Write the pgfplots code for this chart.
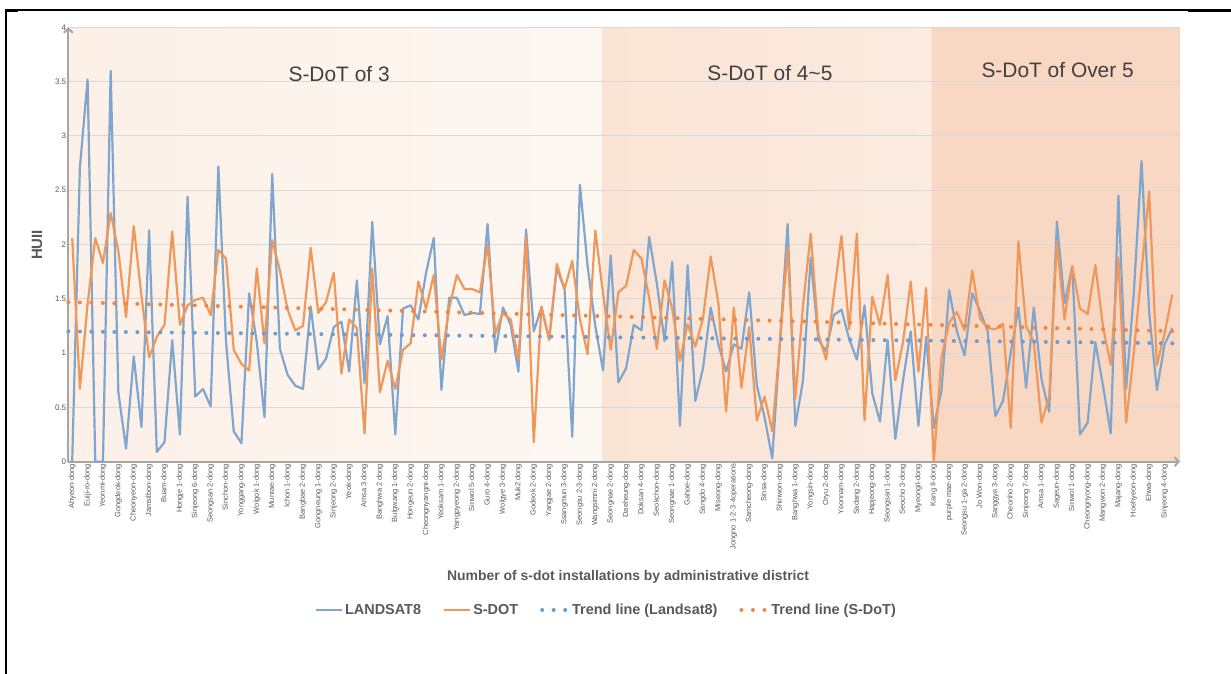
\documentclass[border=0pt]{standalone}
\usepackage{fontspec}
\setmainfont{Liberation Sans}
\usepackage{pgfplots}
\usepackage{pgfplotstable}
\pgfplotsset{compat=1.18}
\usetikzlibrary{arrows.meta}
\definecolor{cBlue}{RGB}{128,166,206}
\definecolor{cOrange}{RGB}{240,152,92}
\definecolor{tBlue}{RGB}{108,156,210}
\definecolor{tOrange}{RGB}{237,135,72}
\definecolor{rA}{RGB}{252,240,231}
\definecolor{rAr}{RGB}{253,247,242}
\definecolor{rB}{RGB}{250,228,213}
\definecolor{rBr}{RGB}{251,235,224}
\definecolor{rC}{RGB}{248,216,195}
\definecolor{txt}{RGB}{89,89,89}
\definecolor{rtxt}{RGB}{64,64,64}
\definecolor{axgray}{RGB}{166,166,166}

\pgfplotstableread{
i l s
0 0 2.06
1 2.71 0.67
2 3.52 1.45
3 0 2.06
4 0 1.83
5 3.60 2.29
6 0.64 1.94
7 0.12 1.33
8 0.97 2.17
9 0.32 1.53
10 2.13 0.96
11 0.09 1.15
12 0.18 1.26
13 1.12 2.12
14 0.25 1.26
15 2.44 1.44
16 0.60 1.49
17 0.67 1.51
18 0.51 1.35
19 2.72 1.95
20 1.10 1.87
21 0.28 1.03
22 0.17 0.90
23 1.55 0.84
24 1.10 1.78
25 0.41 1.09
26 2.65 2.04
27 1.04 1.76
28 0.80 1.40
29 0.70 1.21
30 0.67 1.25
31 1.43 1.97
32 0.85 1.37
33 0.95 1.47
34 1.24 1.74
35 1.29 0.81
36 0.83 1.31
37 1.67 1.23
38 0.72 0.26
39 2.21 1.78
40 1.08 0.64
41 1.34 0.93
42 0.25 0.67
43 1.41 1.03
44 1.44 1.09
45 1.31 1.66
46 1.74 1.41
47 2.06 1.72
48 0.66 0.94
49 1.51 1.41
50 1.51 1.72
51 1.35 1.59
52 1.37 1.59
53 1.36 1.56
54 2.19 2.00
55 1.01 1.18
56 1.42 1.37
57 1.26 1.31
58 0.83 0.94
59 2.14 2.07
60 1.20 0.18
61 1.42 1.43
62 1.13 1.12
63 1.78 1.82
64 1.59 1.59
65 0.23 1.85
66 2.55 1.31
67 1.80 0.99
68 1.25 2.13
69 0.84 1.55
70 1.90 1.03
71 0.73 1.56
72 0.86 1.62
73 1.26 1.95
74 1.21 1.87
75 2.07 1.51
76 1.64 1.04
77 1.11 1.67
78 1.84 1.41
79 0.33 0.93
80 1.81 1.27
81 0.56 1.06
82 0.86 1.32
83 1.42 1.89
84 1.08 1.46
85 0.83 0.46
86 1.08 1.42
87 1.04 0.68
88 1.56 1.24
89 0.70 0.38
90 0.41 0.60
91 0.03 0.28
92 1.10 1.10
93 2.19 1.97
94 0.33 0.58
95 0.75 1.44
96 1.88 2.10
97 1.12 1.18
98 1.02 0.94
99 1.35 1.53
100 1.40 2.08
101 1.13 1.22
102 0.94 2.10
103 1.44 0.38
104 0.63 1.52
105 0.37 1.26
106 1.12 1.72
107 0.21 0.75
108 0.75 1.10
109 1.20 1.66
110 0.33 0.83
111 1.15 1.60
112 0.31 0
113 0.66 0.96
114 1.58 1.28
115 1.20 1.38
116 0.98 1.21
117 1.55 1.76
118 1.39 1.32
119 1.20 1.23
120 0.42 1.22
121 0.56 1.27
122 1.00 0.31
123 1.42 2.03
124 0.68 1.25
125 1.42 1.10
126 0.76 0.36
127 0.46 0.60
128 2.21 2.02
129 1.46 1.31
130 1.80 1.80
131 0.25 1.41
132 0.36 1.36
133 1.10 1.81
134 0.70 1.24
135 0.26 0.89
136 2.45 1.88
137 0.67 0.36
138 1.55 1.00
139 2.77 1.75
140 1.37 2.49
141 0.66 0.89
142 1.08 1.18
143 1.23 1.54
}\hudata

\begin{document}
\begin{tikzpicture}[x=1bp,y=1bp]
% frame
\draw[black, line width=2.2bp] (6,0) -- (6,664.8);
\draw[black, line width=1.2bp] (6,664) -- (1231,664);
\draw[black, line width=2.6bp] (5,663.6) -- (18,663.6);
\draw[black, line width=2.6bp] (1188,663.6) -- (1231,663.6);
\begin{axis}[
  set layers,
  at={(68.35bp,212.3bp)}, anchor=south west,
  scale only axis, width=1111.6bp, height=434.3bp,
  xmin=-0.5, xmax=144, ymin=0, ymax=4,
  clip=false,
  axis lines*=left,
  x axis line style={draw=axgray, line width=2bp, -{Straight Barb[length=4bp,width=9bp]}},
  y axis line style={draw=axgray, line width=2bp, -{Straight Barb[length=4bp,width=9bp]}},
  major tick length=0pt,
  ymajorgrids, grid style={draw=gray!30, line width=1bp},
  ytick={0,0.5,...,4},
  yticklabel style={font=\fontsize{8}{9}\selectfont, text=txt, inner sep=2bp},
  /pgf/number format/assume math mode=true,
  xtick={0,2,...,142},
  xticklabels={Ahyeon-dong, Euiji-ro-dong, Yeonmi-dong, Gongdeok-dong, Cheonyeon-dong, Jamsilbon-dong, Buam-dong, Hongje 1-dong, Sinjeong 6-dong, Seongsan 2-dong, Sinchon-dong, Yonggang-dong, Wolgok 1-dong, Munrae-dong, Ichon 1-dong, Bangbae 2-dong, Gongneung 1-dong, Sinjeong 2-dong, Yeok-dong, Amsa 3 dong, Banghwa 2 dong, Bulgwang 1-dong, Hongeun 2-dong, Cheongnyangni-dong, Yeoksam 1-dong, Yangpyeong 2-dong, Sinwol 5-dong, Guro 4-dong, Wolgye 3-dong, Muk2 dong, Godeok 2-dong, Yangjae 2-dong, Ssangmun 3-dong, Seongsu 2-3-dong, Wangsimni 2-dong, Seongnae 2-dong, Daeheung-dong, Doksan 4-dong, Seokchon-dong, Seongnae 1-dong, Gahoe-dong, Sangdo 4-dong, Miseong-dong, Jongno 1·2·3·4operations, Samcheong-dong, Sinsa-dong, Shinwon-dong, Banghwa 1-dong, Yongsin-dong, Oryu 2-dong, Yeonnam-dong, Sadang 2-dong, Hapjeong-dong, Seongsan 1-dong, Seocho 3-dong, Myeongil-dong, Kang Il-dong, purple mae-dong, Seongsu 1-ga 2-dong, Jo Won-dong, Sanggye 3-dong, Cheonho 2-dong, Sinjeong 7-dong, Amsa 1-dong, Sageun-dong, Sinwol 1-dong, Cheongnyong-dong, Mangwon 2-dong, Majang-dong, Hoehyeon-dong, Ehwa-dong, Sinjeong 4-dong},
  xticklabel style={rotate=90, anchor=east, font=\fontsize{7.5}{8}\selectfont, text=txt, inner sep=2bp},
  xlabel={Number of s-dot installations by administrative district},
  xlabel style={at={(axis description cs:0.5035,-0.2648)}, anchor=center, font=\bfseries\fontsize{14}{16}\selectfont, text=txt},
  ylabel={HUII},
  ylabel style={at={(axis description cs:-0.0282,0.499)}, anchor=center, font=\bfseries\fontsize{15}{17}\selectfont, text=txt},
  legend style={draw=none, fill=none, legend columns=4, font=\bfseries\fontsize{14.5}{17}\selectfont, text=txt,
    at={(0.484,-0.3415)}, anchor=center,
    /tikz/every even column/.append style={column sep=20bp}},
  legend image code/.code={\draw[#1] (0bp,0bp) -- (26bp,0bp);},
]
\addplot[draw=none, left color=rA, right color=rAr, forget plot, on layer=axis background] coordinates {(-0.5,0) (-0.5,4) (68.9,4) (68.9,0)} \closedcycle;
\addplot[draw=none, left color=rB, right color=rBr, forget plot, on layer=axis background] coordinates {(68.9,0) (68.9,4) (111.7,4) (111.7,0)} \closedcycle;
\addplot[draw=none, fill=rC, forget plot, on layer=axis background] coordinates {(111.7,0) (111.7,4) (144,4) (144,0)} \closedcycle;
\addplot[cBlue, line width=2.2bp, no markers, line join=round] table[x=i, y=l] {\hudata};
\addplot[cOrange, line width=2.2bp, no markers, line join=round] table[x=i, y=s] {\hudata};
\addplot[tBlue, line width=4bp, line cap=round, dash pattern=on 0bp off 11.5bp, no markers] coordinates {(-0.5,1.20) (144,1.09)};
\addplot[tOrange, line width=4bp, line cap=round, dash pattern=on 0bp off 11.5bp, no markers] coordinates {(-0.5,1.47) (144,1.20)};
\legend{LANDSAT8, S-DOT, Trend line (Landsat8), Trend line (S-DoT)}
\node[font=\fontsize{21}{24}\selectfont, text=rtxt] at (axis cs:34.7,3.57) {S-DoT of 3};
\node[font=\fontsize{21}{24}\selectfont, text=rtxt] at (axis cs:90.7,3.58) {S-DoT of 4\textasciitilde 5};
\node[font=\fontsize{21}{24}\selectfont, text=rtxt] at (axis cs:128.1,3.61) {S-DoT of Over 5};
\end{axis}
\pgfresetboundingbox
\path[use as bounding box] (0,0) rectangle (1231,674);
\end{tikzpicture}
\end{document}
